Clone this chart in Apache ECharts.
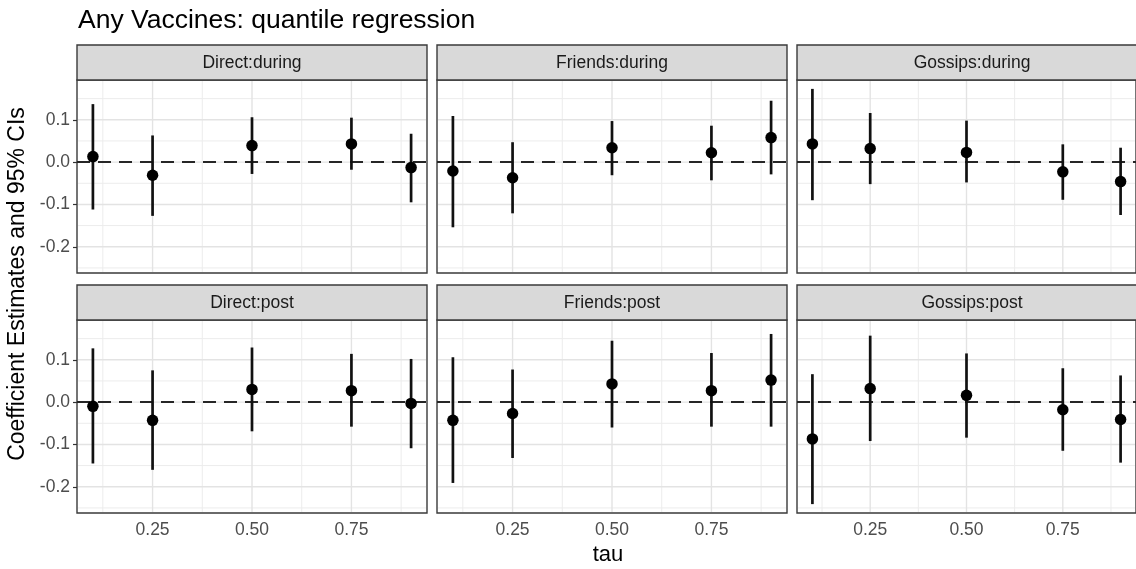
<!DOCTYPE html>
<html>
<head>
<meta charset="utf-8">
<script src="https://cdn.jsdelivr.net/npm/echarts@6/dist/echarts.min.js"></script>
<style>html,body{margin:0;padding:0;background:#fff;}#chart{width:1136px;height:569px;}</style>
</head>
<body>
<div id="chart"></div>
<script>
// ---- data ----
const taus = [0.1, 0.25, 0.5, 0.75, 0.9];
const panelNames = ['Direct:during', 'Friends:during', 'Gossips:during', 'Direct:post', 'Friends:post', 'Gossips:post'];

const estDirectDuring = [0.013, -0.031, 0.039, 0.043, -0.013];
const loDirectDuring  = [-0.112, -0.127, -0.028, -0.018, -0.095];
const hiDirectDuring  = [0.137, 0.063, 0.106, 0.105, 0.067];

const estFriendsDuring = [-0.021, -0.037, 0.034, 0.022, 0.058];
const loFriendsDuring  = [-0.154, -0.121, -0.031, -0.043, -0.029];
const hiFriendsDuring  = [0.109, 0.047, 0.097, 0.086, 0.145];

const estGossipsDuring = [0.043, 0.032, 0.023, -0.023, -0.046];
const loGossipsDuring  = [-0.090, -0.052, -0.048, -0.089, -0.125];
const hiGossipsDuring  = [0.173, 0.116, 0.098, 0.042, 0.034];

const estDirectPost = [-0.010, -0.043, 0.030, 0.027, -0.003];
const loDirectPost  = [-0.145, -0.160, -0.069, -0.058, -0.109];
const hiDirectPost  = [0.127, 0.075, 0.129, 0.114, 0.102];

const estFriendsPost = [-0.043, -0.027, 0.043, 0.027, 0.052];
const loFriendsPost  = [-0.191, -0.132, -0.060, -0.058, -0.058];
const hiFriendsPost  = [0.106, 0.077, 0.145, 0.116, 0.161];

const estGossipsPost = [-0.087, 0.032, 0.016, -0.018, -0.041];
const loGossipsPost  = [-0.241, -0.092, -0.084, -0.115, -0.143];
const hiGossipsPost  = [0.066, 0.157, 0.115, 0.080, 0.063];

const yTicks = [-0.2, -0.1, 0.0, 0.1];
const yMinor = [-0.25, -0.15, -0.05, 0.05, 0.15];
const xTicks = [0.25, 0.5, 0.75];
const xMinor = [0.125, 0.375, 0.625, 0.875];
const refLine = [0];

const panelEst = [estDirectDuring, estFriendsDuring, estGossipsDuring, estDirectPost, estFriendsPost, estGossipsPost];
const panelLo  = [loDirectDuring, loFriendsDuring, loGossipsDuring, loDirectPost, loFriendsPost, loGossipsPost];
const panelHi  = [hiDirectDuring, hiFriendsDuring, hiGossipsDuring, hiDirectPost, hiFriendsPost, hiGossipsPost];

// ---- layout ----
const FONT = 'Liberation Sans, Arial, sans-serif';
const PL = 77, PW = 350, GAP = 10;
const STRIP_TOP = [45, 285], STRIP_H = 35, PH = 193;
const X_MIN = 0.06, X_MAX = 0.94, Y_MIN = -0.262, Y_MAX = 0.194;

const grids = [], xAxes = [], yAxes = [], series = [], graphics = [];

for (let i = 0; i < 6; i++) {
  const row = Math.floor(i / 3), col = i % 3;
  const left = PL + col * (PW + GAP);
  const top = STRIP_TOP[row] + STRIP_H;
  grids.push({left: left, top: top, width: PW, height: PH, show: true,
    backgroundColor: '#fff', borderColor: '#3a3a3a', borderWidth: 1.4, containLabel: false});
  xAxes.push({type: 'value', gridIndex: i, min: X_MIN, max: X_MAX,
    axisLine: {show: false}, splitLine: {show: false},
    axisTick: {show: row === 1, customValues: xTicks, length: 4, lineStyle: {color: '#333', width: 1.2}},
    axisLabel: {show: row === 1, customValues: xTicks, margin: 8, color: '#4d4d4d', fontSize: 17.5, fontFamily: FONT,
      formatter: v => v.toFixed(2)}});
  yAxes.push({type: 'value', gridIndex: i, min: Y_MIN, max: Y_MAX,
    axisLine: {show: false}, splitLine: {show: false},
    axisTick: {show: col === 0, customValues: yTicks, length: 4, lineStyle: {color: '#333', width: 1.2}},
    axisLabel: {show: col === 0, customValues: yTicks, margin: 7, color: '#4d4d4d', fontSize: 17.5, fontFamily: FONT,
      formatter: v => v.toFixed(1)}});

  // grid lines
  const gridData = []
    .concat(yMinor.map(v => [v, 0, 0]))
    .concat(xMinor.map(v => [v, 1, 0]))
    .concat(yTicks.map(v => [v, 0, 1]))
    .concat(xTicks.map(v => [v, 1, 1]));
  series.push({type: 'custom', xAxisIndex: i, yAxisIndex: i, silent: true, z: 1, animation: false,
    data: gridData,
    renderItem: function (params, api) {
      const v = api.value(0), vertical = api.value(1) === 1, major = api.value(2) === 1;
      const cs = params.coordSys;
      let shape;
      if (vertical) {
        const x = api.coord([v, 0])[0];
        shape = {x1: x, y1: cs.y + 1, x2: x, y2: cs.y + cs.height - 1};
      } else {
        const y = api.coord([0.5, v])[1];
        shape = {x1: cs.x + 1, y1: y, x2: cs.x + cs.width - 1, y2: y};
      }
      return {type: 'line', shape: shape,
        style: {stroke: major ? '#e3e3e3' : '#ececec', lineWidth: major ? 1.4 : 1}};
    }});

  // reference dashed line
  series.push({type: 'custom', xAxisIndex: i, yAxisIndex: i, silent: true, z: 2, animation: false,
    data: refLine.map(v => [v]),
    renderItem: function (params, api) {
      const cs = params.coordSys;
      const y = api.coord([0.5, api.value(0)])[1];
      return {type: 'line', shape: {x1: cs.x, y1: y, x2: cs.x + cs.width, y2: y},
        style: {stroke: '#262626', lineWidth: 2, lineDash: [13, 8]}};
    }});

  // error bars
  series.push({type: 'custom', xAxisIndex: i, yAxisIndex: i, silent: true, z: 3, animation: false,
    data: taus.map((t, k) => [t, panelLo[i][k], panelHi[i][k]]),
    renderItem: function (params, api) {
      const p1 = api.coord([api.value(0), api.value(1)]);
      const p2 = api.coord([api.value(0), api.value(2)]);
      return {type: 'line', shape: {x1: p1[0], y1: p1[1], x2: p2[0], y2: p2[1]},
        style: {stroke: '#111', lineWidth: 2.7}};
    }});

  // points
  series.push({type: 'scatter', xAxisIndex: i, yAxisIndex: i, silent: true, z: 4, animation: false,
    symbol: 'circle', symbolSize: 11.5, itemStyle: {color: '#000', opacity: 1},
    data: taus.map((t, k) => [t, panelEst[i][k]])});

  // strip
  graphics.push({type: 'rect', shape: {x: left, y: STRIP_TOP[row], width: PW, height: STRIP_H},
    style: {fill: '#d9d9d9', stroke: '#3a3a3a', lineWidth: 1.4}, z: 10});
  graphics.push({type: 'text', x: left + PW / 2, y: STRIP_TOP[row] + STRIP_H / 2 + 1, z: 11,
    style: {text: panelNames[i], fontSize: 17.5, fontFamily: FONT, fill: '#1a1a1a', align: 'center', verticalAlign: 'middle'}});
}

// axis titles
graphics.push({type: 'text', x: 18, y: 284, rotation: Math.PI / 2, z: 11,
  style: {text: 'Coefficient Estimates and 95% CIs', fontSize: 23, fontFamily: FONT, fill: '#000', align: 'center', verticalAlign: 'middle'}});
graphics.push({type: 'text', x: 608, y: 555, z: 11,
  style: {text: 'tau', fontSize: 22, fontFamily: FONT, fill: '#000', align: 'center', verticalAlign: 'middle'}});

const chart = echarts.init(document.getElementById('chart'), null, {renderer: 'canvas'});
chart.setOption({
  animation: false,
  backgroundColor: '#fff',
  title: {text: 'Any Vaccines: quantile regression', left: 73, top: 2,
    textStyle: {fontSize: 26.5, fontWeight: 'normal', color: '#000', fontFamily: FONT}},
  grid: grids, xAxis: xAxes, yAxis: yAxes, series: series,
  graphic: graphics
});
</script>
</body>
</html>
